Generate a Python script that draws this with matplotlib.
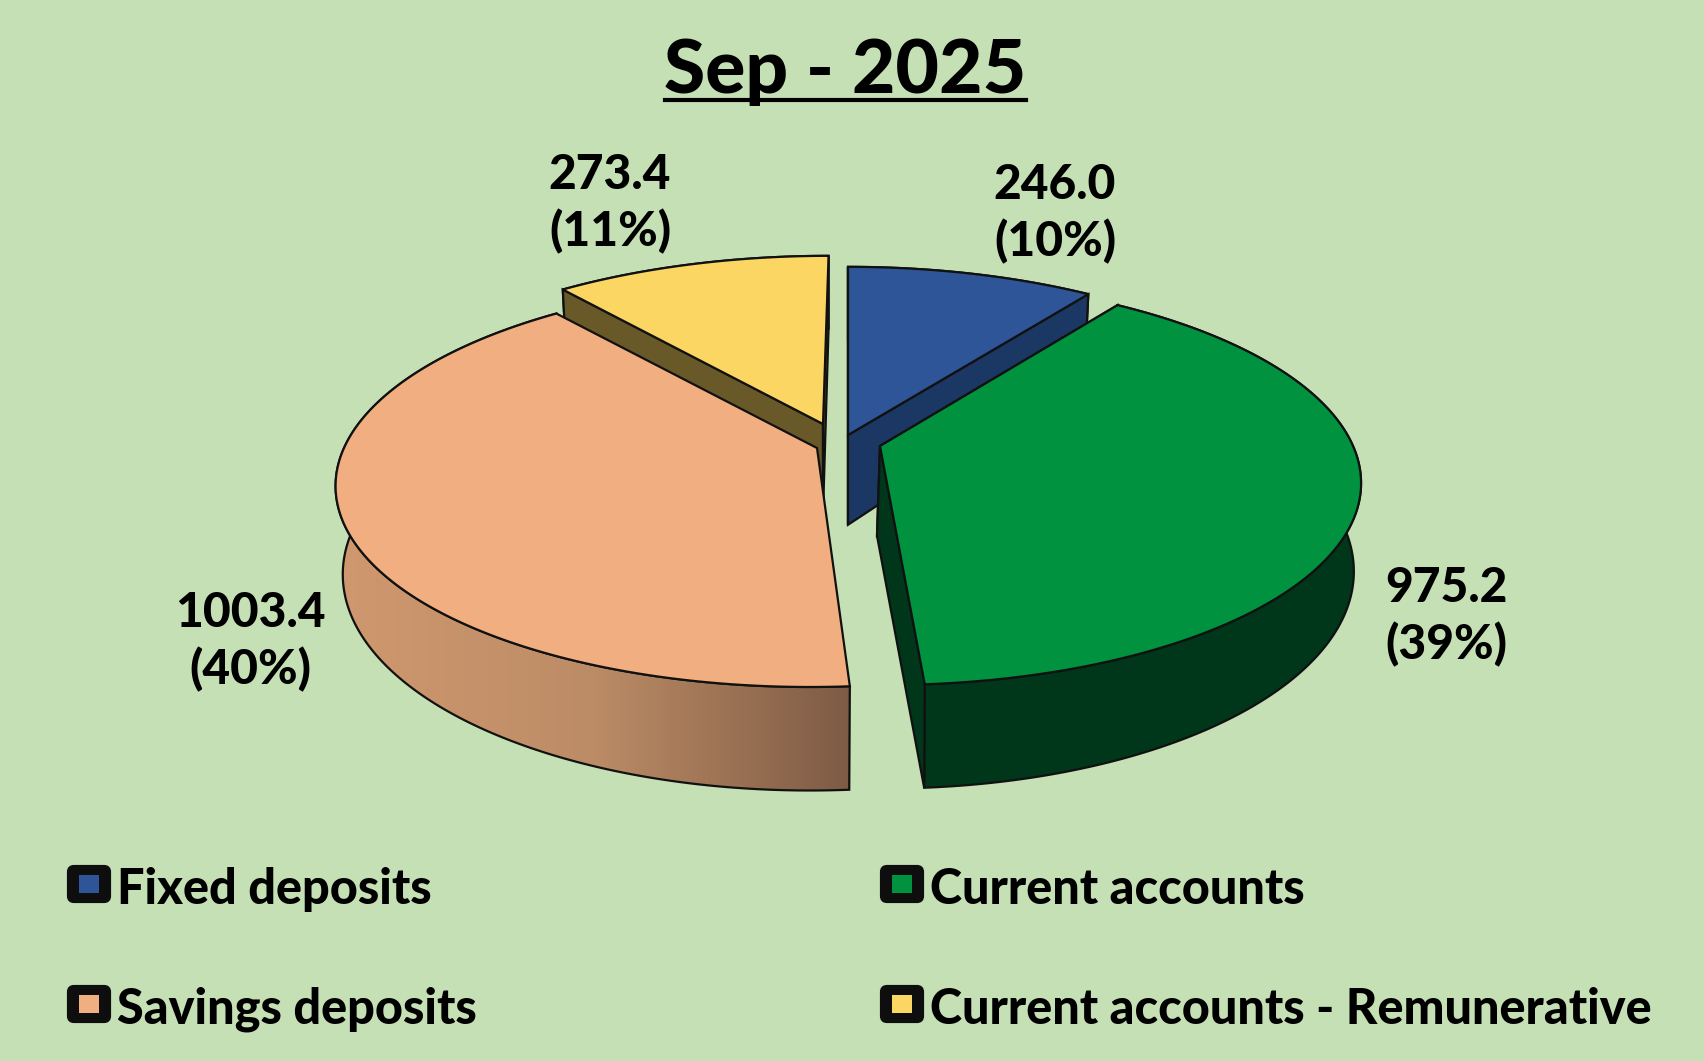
import numpy as np
import matplotlib
matplotlib.use("Agg")
import matplotlib.pyplot as plt
from matplotlib.patches import Polygon, FancyBboxPatch, Rectangle

plt.rcParams['font.family'] = ['Lato', 'DejaVu Sans']

title = "Sep - 2025"
labels = ["Fixed deposits", "Current accounts", "Savings deposits", "Current accounts - Remunerative"]
values = [246.0, 975.2, 1003.4, 273.4]
top_colors = ["#2E5597", "#00923F", "#F1AE80", "#FCD663"]
side_colors = ["#1B3764", "#00361A", "#A87E5E", "#695828"]
bg = "#C5E0B4"

# pie apex of every slice (exploded), in pixels, and the lean perspective gives it
apex = [(848, 435), (880, 446), (817, 448), (823, 424)]
lean = [0.0, 0.02, -0.03, -0.033]
back_shift = [0, -3, 0, 0]
text_pos = [(1055, 214), (1446, 617), (250, 642), (610, 204)]
legend_pos = [(67, 865), (880, 865), (67, 985), (880, 985)]

# perspective of the disc
a = 473.0
b = 197.4
k = 0.174
depth = 85.5
shrink = 0.985


def top_pts(ang):
    u, v = np.sin(ang), np.cos(ang)
    return a * u / (1 + k * v), -b * v / (1 + k * v)


def bottom_pts(ang):
    x, y = top_pts(ang)
    return x * shrink, y + depth / (1 + k * np.cos(ang))


fig = plt.figure(figsize=(17.04, 10.61), dpi=100, facecolor=bg)
ax = fig.add_axes([0, 0, 1, 1])
ax.set_xlim(0, 1704)
ax.set_ylim(1061, 0)
ax.axis("off")

total = sum(values)
edges = np.cumsum([0] + values) / total * 2 * np.pi
edge_kw = dict(edgecolor="#111111", linewidth=1.6, joinstyle="miter")


def wedge(i, z):
    cx, cy = apex[i]
    s = lean[i]
    ang = np.linspace(edges[i], edges[i + 1], 200)
    tx, ty = top_pts(ang)
    bx, by = bottom_pts(ang)
    bx = bx + s * ty
    tx = tx + s * ty
    # outer rim
    rim = np.column_stack([np.r_[tx, bx[::-1]] + cx, np.r_[ty, by[::-1]] + cy])
    if i == 2:
        # savings rim is shaded from left to right
        p = Polygon(rim, closed=True, facecolor="none", edgecolor="#111111", linewidth=1.6, zorder=z + 0.1)
        ax.add_patch(p)
        grad = np.linspace(0, 1, 256).reshape(1, -1)
        cmap = matplotlib.colors.LinearSegmentedColormap.from_list(
            "rim", ["#D0986F", "#BC8C66", "#7E5B45"])
        im = ax.imshow(grad, extent=(rim[:, 0].min(), rim[:, 0].max(), rim[:, 1].max(), rim[:, 1].min()),
                       cmap=cmap, aspect="auto", zorder=z)
        im.set_clip_path(Polygon(rim, closed=True, transform=ax.transData))
        ax.set_xlim(0, 1704)
        ax.set_ylim(1061, 0)
    else:
        ax.add_patch(Polygon(rim, closed=True, facecolor=side_colors[i], zorder=z, **edge_kw))
    # cut faces
    for e in (edges[i], edges[i + 1]):
        tx0, ty0 = top_pts(e)
        bx0, by0 = bottom_pts(e)
        bx0 = bx0 + s * ty0
        tx0 = tx0 + s * ty0
        d0 = depth * 1.05
        face = [(cx, cy), (cx + tx0, cy + ty0), (cx + bx0, cy + by0), (cx + back_shift[i], cy + d0)]
        if i == 2:
            continue
        ax.add_patch(Polygon(face, closed=True, facecolor=side_colors[i], zorder=z, **edge_kw))
    # top face
    poly = np.column_stack([np.r_[cx, tx + cx], np.r_[cy, ty + cy]])
    ax.add_patch(Polygon(poly, closed=True, facecolor=top_colors[i], zorder=z + 0.2, **edge_kw))


# back slices first
wedge(3, 1)
wedge(0, 2)
wedge(2, 3)
wedge(1, 4)

for v, (x, y) in zip(values, text_pos):
    ax.text(x, y, "{:.1f}\n({:.0f}%)".format(v, v / total * 100), ha="center", va="center",
            fontsize=34.5, fontweight=900, color="black", linespacing=1.32, zorder=6)

ax.text(845, 72, title, ha="center", va="center", fontsize=54, fontweight=900, color="black")
ax.plot([665, 1026], [100, 100], color="black", linewidth=3)

for lab, col, (x, y) in zip(labels, top_colors, legend_pos):
    ax.add_patch(FancyBboxPatch((x + 2, y + 2), 40, 34, boxstyle="round,pad=0,rounding_size=5",
                                mutation_aspect=1, facecolor="#0E0E0E", edgecolor="#0E0E0E", linewidth=3))
    ax.add_patch(Rectangle((x + 12, y + 10), 20, 18, facecolor=col, edgecolor="none", zorder=3))
    ax.text(x + 50, y + 24, lab, ha="left", va="center", fontsize=35, fontweight=900, color="black")

fig.savefig("out.png", dpi=100, facecolor=bg)
